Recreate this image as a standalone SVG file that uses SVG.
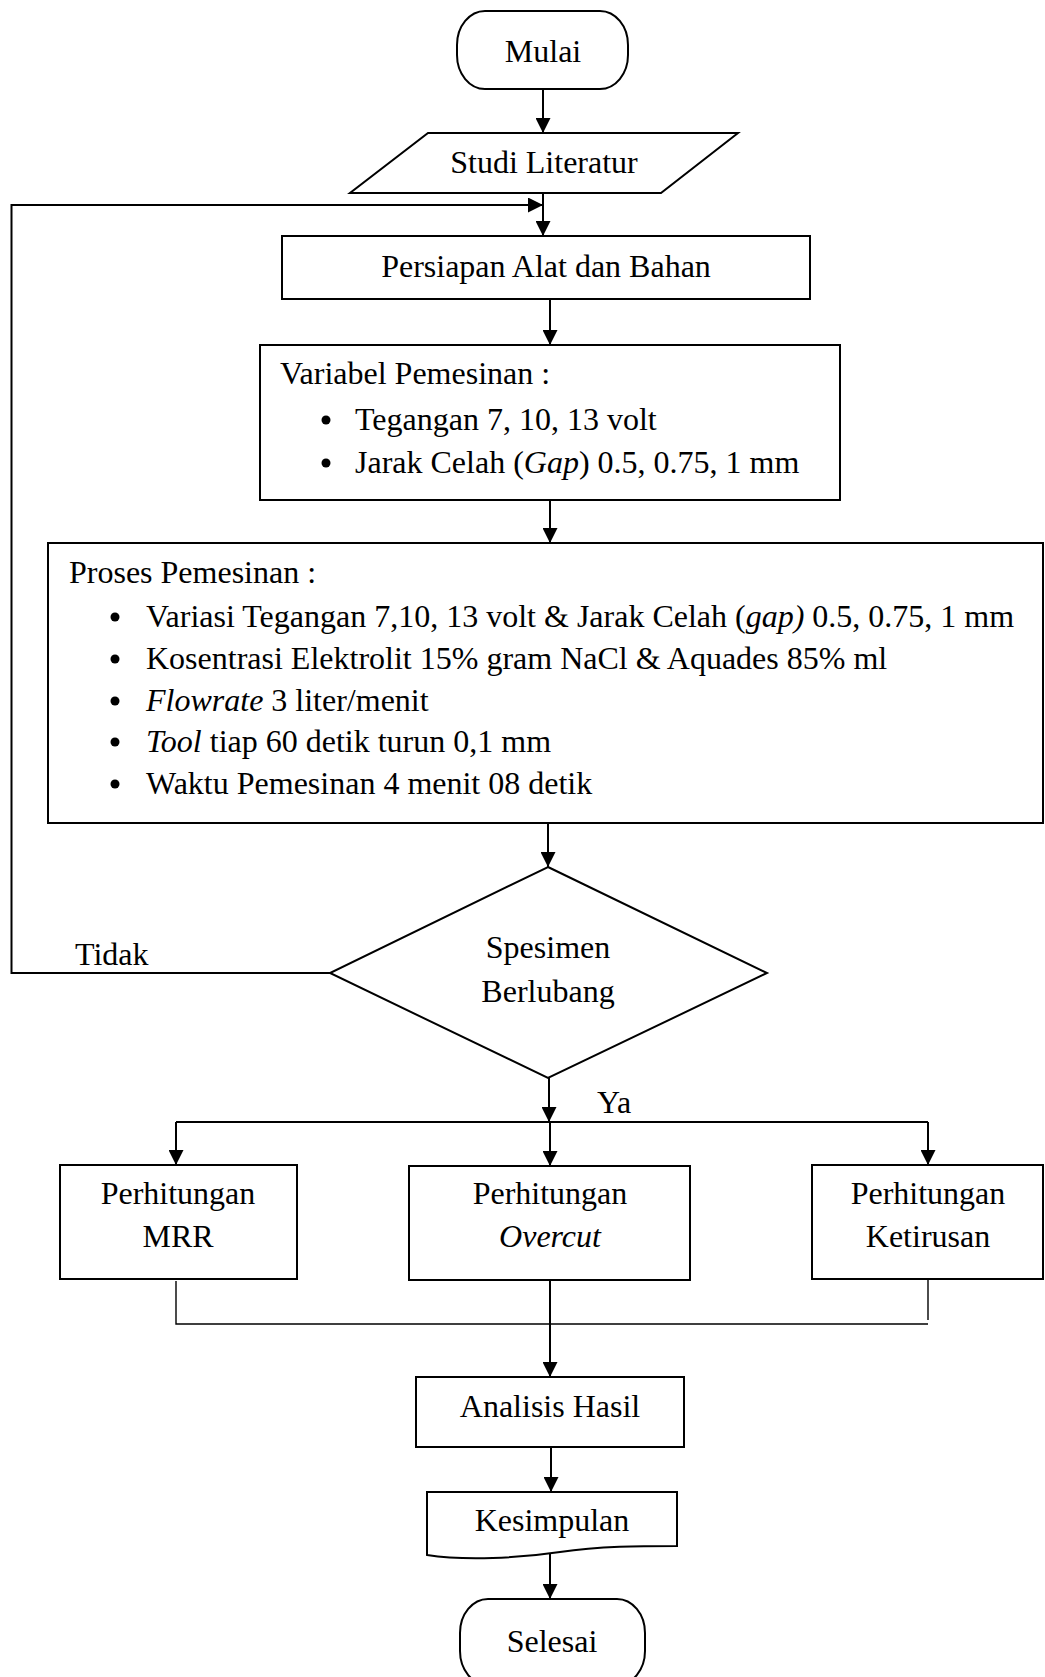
<svg xmlns="http://www.w3.org/2000/svg" width="1045" height="1677" viewBox="0 0 1045 1677">
<style>
text{font-family:"Liberation Serif","Times New Roman",serif;font-size:32px;fill:#000}
.c{text-anchor:middle}
.i{font-style:italic}
.s{fill:#fff;stroke:#000;stroke-width:2}
.l{fill:none;stroke:#000;stroke-width:2}
.t{fill:none;stroke:#000;stroke-width:1.4}
</style>
<defs>
<marker id="ah" markerUnits="userSpaceOnUse" markerWidth="15" markerHeight="15" refX="15" refY="7.5" orient="auto">
<path d="M0,0 L15,7.5 L0,15 z" fill="#000"/>
</marker>
</defs>
<rect width="1045" height="1677" fill="#fff"/>
<g id="connectors">
<path class="l" d="M543,89 V133" marker-end="url(#ah)"/>
<path class="l" d="M543,193 V236" marker-end="url(#ah)"/>
<path class="l" d="M330,973 H11.5 V205 H543" marker-end="url(#ah)"/>
<path class="l" d="M550,299 V345" marker-end="url(#ah)"/>
<path class="l" d="M550,500 V543" marker-end="url(#ah)"/>
<path class="l" d="M548,823 V867" marker-end="url(#ah)"/>
<path class="l" d="M549,1078 V1122" marker-end="url(#ah)"/>
<path class="l" d="M176,1122 H928"/>
<path class="l" d="M176,1122 V1165" marker-end="url(#ah)"/>
<path class="l" d="M550,1122 V1166" marker-end="url(#ah)"/>
<path class="l" d="M928,1122 V1165" marker-end="url(#ah)"/>
<path class="t" d="M176,1281 V1324 H928"/>
<path class="t" d="M928,1280 V1320"/>
<path class="l" d="M550,1280 V1377" marker-end="url(#ah)"/>
<path class="l" d="M551,1447 V1492" marker-end="url(#ah)"/>
<path class="l" d="M550,1553 V1599" marker-end="url(#ah)"/>
</g>
<g id="mulai">
<rect class="s" x="457" y="11" width="171" height="78" rx="28" ry="34"/>
<text class="c" x="543" y="62">Mulai</text>
</g>
<g id="studi-literatur">
<path class="s" d="M428,133 H738 L661,193 H350 Z"/>
<text class="c" x="544" y="173">Studi Literatur</text>
</g>
<g id="persiapan">
<rect class="s" x="282" y="236" width="528" height="63"/>
<text class="c" x="546" y="277">Persiapan Alat dan Bahan</text>
</g>
<g id="variabel">
<rect class="s" x="260" y="345" width="580" height="155"/>
<text x="280" y="384">Variabel Pemesinan :</text>
<circle cx="326" cy="420" r="4.5"/>
<circle cx="326" cy="463" r="4.5"/>
<text x="355" y="430">Tegangan 7, 10, 13 volt</text>
<text x="355" y="473">Jarak Celah (<tspan class="i">Gap</tspan>) 0.5, 0.75, 1 mm</text>
</g>
<g id="proses">
<rect class="s" x="48" y="543" width="995" height="280"/>
<text x="69" y="583">Proses Pemesinan :</text>
<circle cx="115" cy="617" r="4.5"/>
<circle cx="115" cy="659" r="4.5"/>
<circle cx="115" cy="701" r="4.5"/>
<circle cx="115" cy="742" r="4.5"/>
<circle cx="115" cy="784" r="4.5"/>
<text x="146" y="627">Variasi Tegangan 7,10, 13 volt &amp; Jarak Celah (<tspan class="i">gap)</tspan> 0.5, 0.75, 1 mm</text>
<text x="146" y="669">Kosentrasi Elektrolit 15% gram NaCl &amp; Aquades 85% ml</text>
<text x="146" y="711"><tspan class="i">Flowrate</tspan> 3 liter/menit</text>
<text x="146" y="752"><tspan class="i">Tool</tspan> tiap 60 detik turun 0,1 mm</text>
<text x="146" y="794">Waktu Pemesinan 4 menit 08 detik</text>
</g>
<g id="keputusan">
<path class="s" d="M548,867 L767,973 L548,1078 L330,973 Z"/>
<text class="c" x="548" y="958">Spesimen</text>
<text class="c" x="548" y="1002">Berlubang</text>
</g>
<g id="label-tidak"><text x="75" y="965">Tidak</text></g>
<g id="label-ya"><text x="597" y="1113">Ya</text></g>
<g id="mrr">
<rect class="s" x="60" y="1165" width="237" height="114"/>
<text class="c" x="178" y="1204">Perhitungan</text>
<text class="c" x="178" y="1247">MRR</text>
</g>
<g id="overcut">
<rect class="s" x="409" y="1166" width="281" height="114"/>
<text class="c" x="550" y="1204">Perhitungan</text>
<text class="c i" x="550" y="1247">Overcut</text>
</g>
<g id="ketirusan">
<rect class="s" x="812" y="1165" width="231" height="114"/>
<text class="c" x="928" y="1204">Perhitungan</text>
<text class="c" x="928" y="1247">Ketirusan</text>
</g>
<g id="analisis">
<rect class="s" x="416" y="1377" width="268" height="70"/>
<text class="c" x="550" y="1417">Analisis Hasil</text>
</g>
<g id="kesimpulan">
<path class="s" d="M427,1492 H677 V1546 C640,1546 600,1546 560,1552 C520,1558 465,1561 427,1555 Z"/>
<text class="c" x="552" y="1531">Kesimpulan</text>
</g>
<g id="selesai">
<rect class="s" x="460" y="1599" width="185" height="86" rx="28" ry="34"/>
<text class="c" x="552" y="1652">Selesai</text>
</g>
</svg>
